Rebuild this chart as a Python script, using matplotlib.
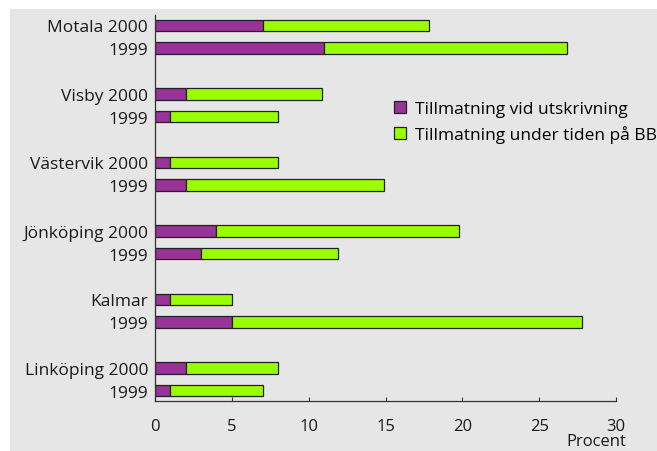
import numpy as np
import matplotlib.pyplot as plt
from matplotlib.patches import Rectangle

# --- Data ---
labels = ['Motala 2000', '1999', 'Visby 2000', '1999', 'Västervik 2000', '1999',
          'Jönköping 2000', '1999', 'Kalmar', '1999', 'Linköping 2000', '1999']
utskrivning = [7, 11, 2, 1, 1, 2, 4, 3, 1, 5, 2, 1]                        # purple part
total       = [17.8, 26.8, 10.9, 8, 8, 14.9, 19.8, 11.9, 5, 27.8, 8, 7]     # end of green part
under_bb    = [t - u for t, u in zip(total, utskrivning)]
xticks      = [0, 5, 10, 15, 20, 25, 30]

plt.rcParams['font.family'] = ['Open Sans', 'DejaVu Sans']

# bars in pairs, with a gap between the places
ypos = []
for g in range(6):
    ypos += [g * 3, g * 3 + 1]
ypos = np.array(ypos)

fig = plt.figure(figsize=(6.57, 4.52), dpi=100)
fig.patches.append(Rectangle((10 / 657, 0), 1, 1 - 10 / 452, transform=fig.transFigure,
                             facecolor='#e6e6e6', edgecolor='none', zorder=-10))
ax = fig.add_axes([155 / 657, 1 - 402 / 452, (616 - 155) / 657, (402 - 16) / 452])
ax.set_facecolor('none')

ax.barh(ypos, utskrivning, height=0.5, color='#993399', edgecolor='#222222', linewidth=0.9,
        label='Tillmatning vid utskrivning')
ax.barh(ypos, under_bb, left=utskrivning, height=0.5, color='#99ff00', edgecolor='#222222',
        linewidth=0.9, label='Tillmatning under tiden på BB')

ax.set_ylim(16.45, -0.45)
ax.set_xlim(0, 30)
ax.set_yticks(ypos)
ax.set_yticklabels(labels, fontsize=12.5, color='#1a1a1a')
ax.set_xticks(xticks)
ax.set_xticklabels([str(v) for v in xticks], fontsize=12, color='#1a1a1a')
ax.tick_params(axis='y', length=0, pad=5)
ax.tick_params(axis='x', direction='in', length=3, width=0.8, color='#333333', pad=12)
for s in ['top', 'right']:
    ax.spines[s].set_visible(False)
for s in ['left', 'bottom']:
    ax.spines[s].set_color('#333333')
    ax.spines[s].set_linewidth(0.9)

fig.text(596 / 657, 1 - 442 / 452, 'Procent', ha='center', va='center', fontsize=12, color='#1a1a1a')

ax.legend(loc='upper left', bbox_to_anchor=(394 / 657, 1 - 102 / 452), bbox_transform=fig.transFigure,
          frameon=False, fontsize=12.5, handlelength=0.7, handleheight=0.7, handletextpad=0.5,
          labelspacing=0.45, borderpad=0, borderaxespad=0)

fig.savefig('out.png', dpi=100)
